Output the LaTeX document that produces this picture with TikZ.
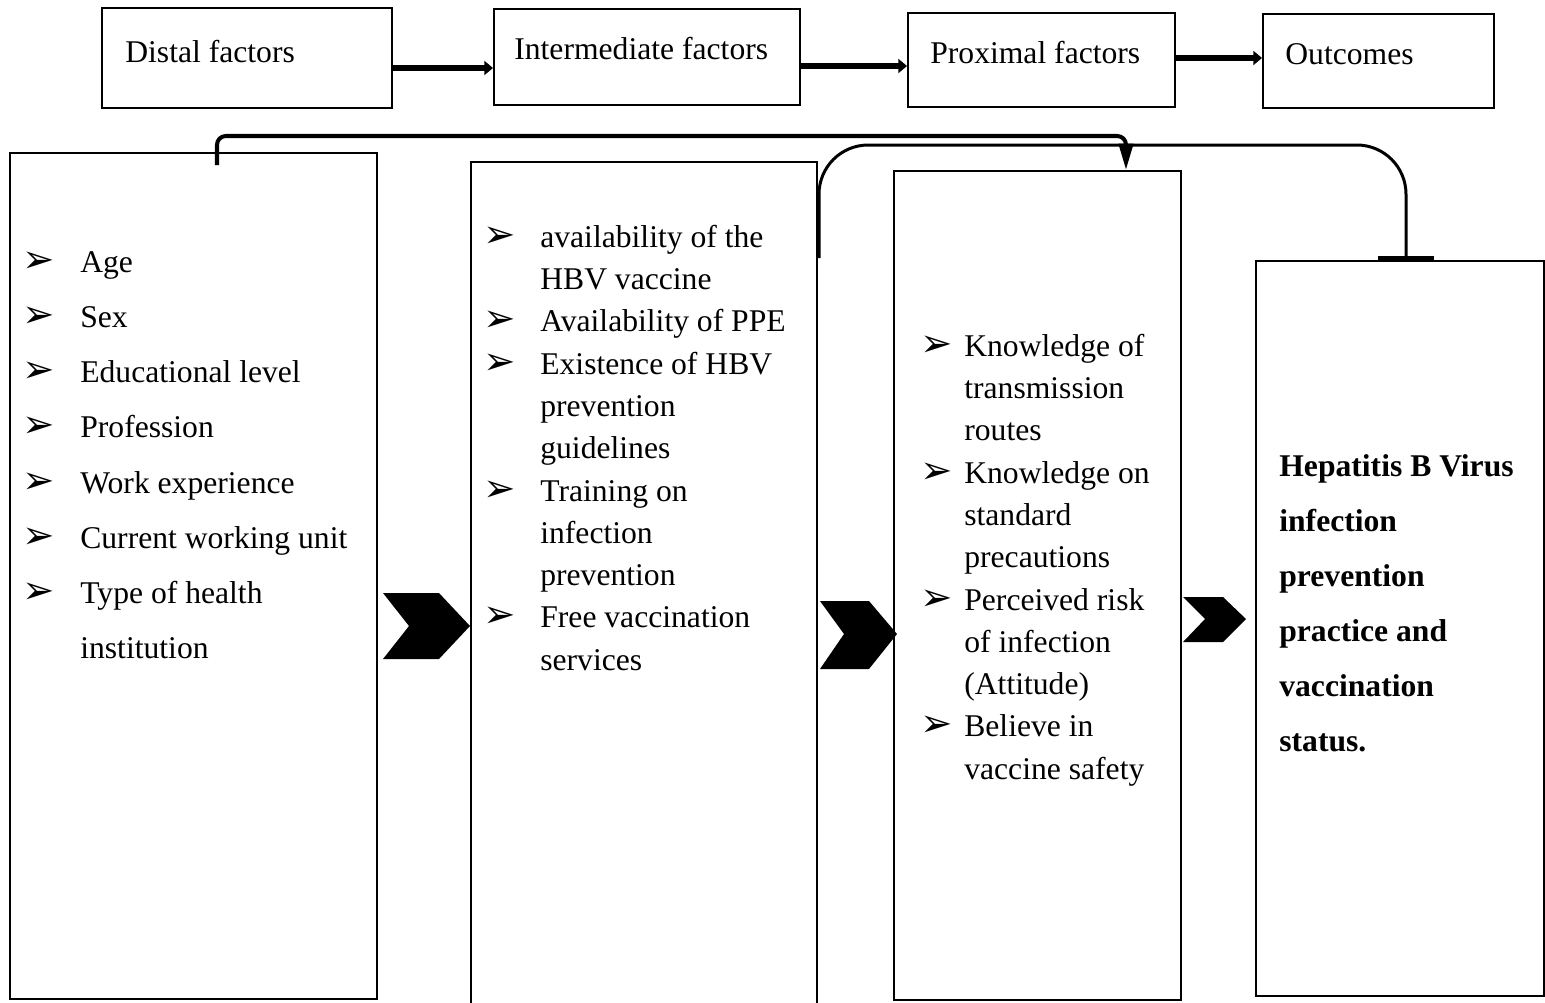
\documentclass[tikz,border=0pt]{standalone}
\usepackage{fontspec}
\setmainfont{Liberation Serif}
\newfontfamily\bulfont{DejaVu Sans}
\usetikzlibrary{arrows.meta, fit, positioning}
\newcommand{\bul}[1][1.16cm]{\makebox[#1][l]{\bulfont\fontsize{22}{22}\selectfont ➢}}
\newcommand{\ind}[1][1.16cm]{\hspace*{#1}}
\tikzset{
  box/.style={draw, line width=1.1pt, inner sep=0pt},
  lbl/.style={inner sep=0pt, anchor=base west, font=\fontsize{18}{22}\selectfont},
  list/.style={inner sep=0pt, anchor=north west, align=left},
  flow/.style={line width=3.4pt, -{Triangle[length=5pt,width=8pt]}},
}

\begin{document}
\begin{tikzpicture}[x=0.02cm, y=-0.02cm]
      \useasboundingbox (0,0) rectangle (1545,1002);
      % headings
      \node[box, fit={(102,8) (392,108)}] (distal) {};
      \node[lbl] (distalT) at (125,62) {Distal factors};
      \node[box, fit={(494,9) (800,105)}] (inter) {};
      \node[lbl] (interT) at (514,59) {Intermediate factors};
      \node[box, fit={(908,13) (1175,107)}] (prox) {};
      \node[lbl] (proxT) at (930,63) {Proximal factors};
      \node[box, fit={(1263,14) (1494,108)}] (outc) {};
      \node[lbl] (outcT) at (1285,64) {Outcomes};
      \draw[flow] (distal.east |- 0,68) -- (inter.west |- 0,68);
      \draw[flow] (inter.east |- 0,66) -- (prox.west |- 0,66);
      \draw[flow] (prox.east |- 0,58) -- (outc.west |- 0,58);

      % factor boxes
      \node[box, fit={(10,153) (377,999)}] (distbox) {};
      \node[box, fit={(471,162) (817,1008)}] (interbox) {};
      \node[box, fit={(894,171) (1181,1000)}] (proxbox) {};
      \node[box, fit={(1256,261) (1544,996)}] (outbox) {};

      \node[list, font=\fontsize{18}{31.4}\selectfont] (distlist) at (22,233.4) {
        \strut\bul Age\\ \bul Sex\\ \bul Educational level\\ \bul Profession\\
        \bul Work experience\\ \bul Current working unit\\ \bul Type of health\\
        \ind institution};
      \node[list, font=\fontsize{18}{24.07}\selectfont] (interlist) at (483,217.4) {
        \strut\bul[1.14cm]availability of the\\ \ind[1.14cm]HBV vaccine\\
        \bul[1.14cm]Availability of PPE\\ \bul[1.14cm]Existence of HBV\\
        \ind[1.14cm]prevention\\ \ind[1.14cm]guidelines\\
        \bul[1.14cm]Training on\\ \ind[1.14cm]infection\\ \ind[1.14cm]prevention\\
        \bul[1.14cm]Free vaccination\\ \ind[1.14cm]services};
      \node[list, font=\fontsize{18}{24.07}\selectfont] (proxlist) at (920,326.4) {
        \strut\bul[0.88cm]Knowledge of\\ \ind[0.88cm]transmission\\ \ind[0.88cm]routes\\
        \bul[0.88cm]Knowledge on\\ \ind[0.88cm]standard\\ \ind[0.88cm]precautions\\
        \bul[0.88cm]Perceived risk\\ \ind[0.88cm]of infection\\ \ind[0.88cm](Attitude)\\
        \bul[0.88cm]Believe in\\ \ind[0.88cm]vaccine safety};
      \node[list, font=\bfseries\fontsize{18}{31.3}\selectfont] (outlist) at (1279,437.5) {
        \strut Hepatitis B Virus\\ infection\\ prevention\\ practice and\\
        vaccination\\ status.};

      % chevrons
      \fill (383,593) -- (439,593) -- (470,626) -- (439,659) -- (383,659) -- (409,626) -- cycle;
      \fill (820,601) -- (869,601) -- (897,634) -- (869,669) -- (820,669) -- (844,634) -- cycle;
      \fill (1183,597) -- (1223,597) -- (1246,619) -- (1223,642) -- (1183,642) -- (1205,619) -- cycle;

      % links over the top
      \coordinate (s1) at (217,165);
      \draw[line width=2.3pt, rounded corners=5pt, -{Triangle[length=15pt,width=8pt]}]
        (s1) -- ++(0,-29) -| ([xshift=1.77cm]proxbox.north);
      \coordinate (s2) at (819,258);
      \draw[line width=1.7pt, rounded corners=28pt, -{Bar[width=32pt,line width=2.5pt]}]
        (s2) -- ++(0,-113) -| ([xshift=0.12cm]outbox.north);
\end{tikzpicture}
\end{document}
